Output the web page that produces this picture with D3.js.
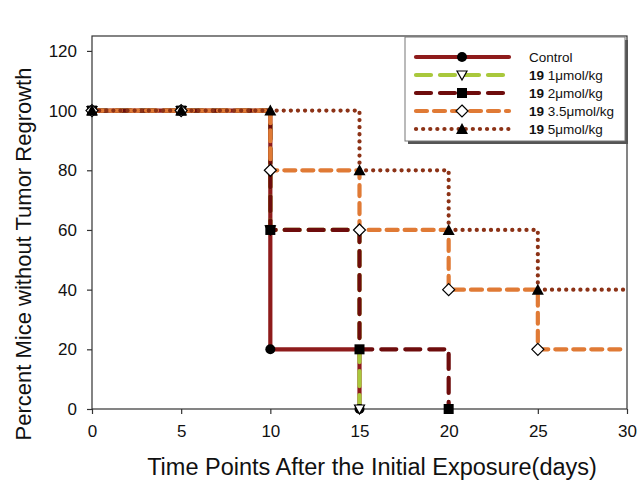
<!DOCTYPE html>
<html>
<head>
<meta charset="utf-8">
<script src="https://cdn.jsdelivr.net/npm/d3@7"></script>
<style>
  body { margin: 0; background: #fff; }
  text { font-family: "Liberation Sans", Arial, sans-serif; }
</style>
</head>
<body>
<div id="plot"></div>
<script>
// time points (days)
const days = [0, 5, 10, 15, 20, 25, 30];
// percent of mice without regrowth, per group
const control = [100, 100, 20, 0];
const dose1 = [100, 100, 60, 0];
const dose2 = [100, 100, 60, 20, 0];
const dose35 = [100, 100, 80, 60, 40, 20, 20];
const dose5 = [100, 100, 100, 80, 60, 40, 40];
const legendNames = ["Control", "1μmol/kg", "2μmol/kg", "3.5μmol/kg", "5μmol/kg"];
const xTicks = [0, 5, 10, 15, 20, 25, 30];
const yTicks = [0, 20, 40, 60, 80, 100, 120];

const groups = [
  { name: legendNames[0], vals: control, color: "#8e1b1b", dash: null, w: 4.2, marker: "circle" },
  { name: legendNames[1], vals: dose1, color: "#a9c83c", dash: "15,9", w: 4.2, marker: "tridown" },
  { name: legendNames[2], vals: dose2, color: "#6e0c0c", dash: "15,9", w: 4.2, marker: "square" },
  { name: legendNames[3], vals: dose35, color: "#e07a35", dash: "11,7", w: 4.2, marker: "diamond" },
  { name: legendNames[4], vals: dose5, color: "#8c3216", dash: "0.1,7", w: 4.2, marker: "triup" }
];

const width = 637, height = 483;
const m = { left: 92, right: 627, top: 36, bottom: 409 };

const svg = d3.select("#plot").append("svg")
  .attr("width", width)
  .attr("height", height);

const x = d3.scaleLinear().domain([0, 30]).range([m.left, m.right]);
const y = d3.scaleLinear().domain([0, 125]).range([m.bottom, m.top]);

// frame
svg.append("rect")
  .attr("x", m.left).attr("y", m.top)
  .attr("width", m.right - m.left).attr("height", m.bottom - m.top)
  .attr("fill", "none").attr("stroke", "#333").attr("stroke-width", 1.2);

const xAxis = svg.append("g")
  .attr("transform", `translate(0,${m.bottom})`)
  .call(d3.axisBottom(x).tickValues(xTicks).tickSize(5).tickPadding(11));
const yAxis = svg.append("g")
  .attr("transform", `translate(${m.left},0)`)
  .call(d3.axisLeft(y).tickValues(yTicks).tickSize(5).tickPadding(10));

[xAxis, yAxis].forEach(a => {
  a.select(".domain").remove();
  a.selectAll(".tick line").attr("stroke", "#333").attr("stroke-width", 1.2);
  a.selectAll(".tick text").attr("font-size", 17).attr("fill", "#111")
    .style("font-family", "Liberation Sans, Arial, sans-serif");
});

svg.append("text")
  .attr("x", 372).attr("y", 475)
  .attr("text-anchor", "middle")
  .attr("font-size", 23.5).attr("fill", "#111")
  .text("Time Points After the Initial Exposure(days)");

svg.append("text")
  .attr("transform", `translate(31,254) rotate(-90)`)
  .attr("text-anchor", "middle")
  .attr("font-size", 22).attr("fill", "#111")
  .text("Percent Mice without Tumor Regrowth");

const line = d3.line()
  .x(d => x(d[0]))
  .y(d => y(d[1]))
  .curve(d3.curveStepAfter);

function drawMarker(g, type, cx, cy) {
  const s = 5;
  if (type === "circle") {
    g.append("circle").attr("cx", cx).attr("cy", cy).attr("r", 5).attr("fill", "#000");
  } else if (type === "square") {
    g.append("rect").attr("x", cx - s).attr("y", cy - s).attr("width", 2 * s).attr("height", 2 * s).attr("fill", "#000");
  } else if (type === "diamond") {
    g.append("path").attr("d", `M${cx},${cy - 6}L${cx + 6},${cy}L${cx},${cy + 6}L${cx - 6},${cy}Z`)
      .attr("fill", "#fff").attr("stroke", "#000").attr("stroke-width", 1.2);
  } else if (type === "tridown") {
    g.append("path").attr("d", `M${cx - 5},${cy - 4}L${cx + 5},${cy - 4}L${cx},${cy + 5}Z`)
      .attr("fill", "#fff").attr("stroke", "#000").attr("stroke-width", 1.2);
  } else if (type === "triup") {
    g.append("path").attr("d", `M${cx - 6},${cy + 5}L${cx + 6},${cy + 5}L${cx},${cy - 6}Z`)
      .attr("fill", "#000");
  }
}

const plotArea = svg.append("g");
groups.forEach(gr => {
  const pts = gr.vals.map((v, i) => [days[i], v]);
  plotArea.append("path")
    .datum(pts)
    .attr("d", line)
    .attr("fill", "none")
    .attr("stroke", gr.color)
    .attr("stroke-width", gr.w)
    .attr("stroke-linecap", "round")
    .attr("stroke-dasharray", gr.dash);
});
groups.forEach(gr => {
  const pts = gr.vals.map((v, i) => [days[i], v]).filter(d => d[0] < 30);
  pts.forEach(d => drawMarker(plotArea, gr.marker, x(d[0]), y(d[1])));
});

// legend
const lg = svg.append("g");
lg.append("rect").attr("x", 408).attr("y", 40).attr("width", 220).attr("height", 104).attr("fill", "#555");
lg.append("rect").attr("x", 405).attr("y", 37).attr("width", 220).attr("height", 104)
  .attr("fill", "#fff").attr("stroke", "#777").attr("stroke-width", 1);

groups.forEach((gr, i) => {
  const ly = 57 + i * 18;
  lg.append("line")
    .attr("x1", 416).attr("x2", 509).attr("y1", ly).attr("y2", ly)
    .attr("stroke", gr.color).attr("stroke-width", gr.w)
    .attr("stroke-linecap", "round")
    .attr("stroke-dasharray", gr.dash);
  drawMarker(lg, gr.marker, 462, ly);
  const t = lg.append("text").attr("x", 529).attr("y", ly + 5)
    .attr("font-size", 13.5).attr("fill", "#111");
  if (i > 0) t.append("tspan").attr("font-weight", "bold").text("19 ");
  t.append("tspan").text(gr.name);
});
</script>
</body>
</html>
